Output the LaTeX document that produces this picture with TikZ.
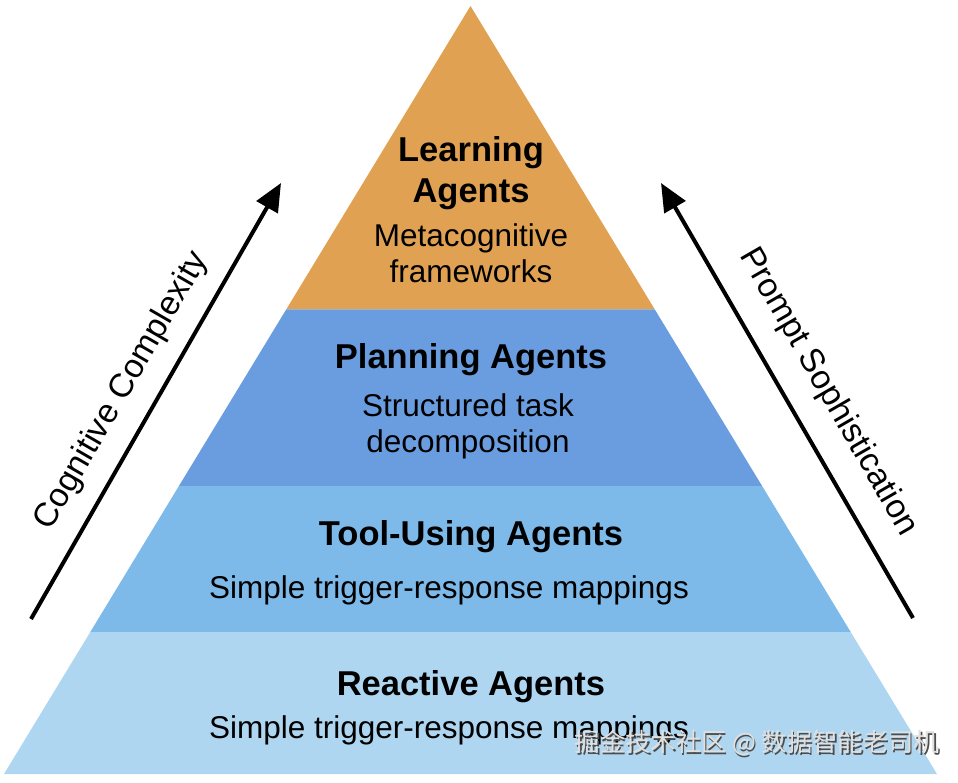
\documentclass[tikz,border=0pt]{standalone}
\usepackage{fontspec}
\setmainfont{Liberation Sans}
\newfontfamily\cjk{Noto Sans CJK SC}
\usetikzlibrary{arrows.meta}
\definecolor{lorange}{HTML}{E0A252}
\definecolor{lplan}{HTML}{6A9DE0}
\definecolor{ltool}{HTML}{7DB9E9}
\definecolor{lreact}{HTML}{AED6F1}
\tikzset{
  title/.style={anchor=base,inner sep=0pt,font=\fontsize{34.5}{40}\selectfont\bfseries},
  body/.style={anchor=base,inner sep=0pt,font=\fontsize{31.5}{36}\selectfont},
  side/.style={inner sep=0pt,font=\fontsize{33.5}{38}\selectfont},
  axis/.style={line width=4pt,-{Triangle[length=28pt,width=24pt]}},
  wm/.style={inner sep=0pt,font=\cjk\fontsize{25.3}{30}\selectfont}
}
\begin{document}
\begin{tikzpicture}[x=1pt,y=-1pt]
\useasboundingbox (0,0) rectangle (958,783);
% pyramid corner coordinates
\coordinate (apex) at (470.5,6);
\coordinate (l1) at (286.3,309.3); \coordinate (r1) at (654.7,309.3);
\coordinate (l2) at (178.9,486);   \coordinate (r2) at (762.1,486);
\coordinate (l3) at (90.3,632);    \coordinate (r3) at (850.7,632);
\coordinate (l4) at (4,774);       \coordinate (r4) at (937,774);
% layers
\fill[lorange] (apex) -- (l1) -- (r1) -- cycle;
\fill[lplan] (l1) -- (l2) -- (r2) -- (r1) -- cycle;
\fill[ltool] (l2) -- (l3) -- (r3) -- (r2) -- cycle;
\fill[lreact] (l3) -- (l4) -- (r4) -- (r3) -- cycle;
% texts
\node[title] (learn1) at (471,162) {Learning};
\node[title] (learn2) at (471,203) {Agents};
\node[body] (learn3) at (471,247) {Metacognitive};
\node[body] (learn4) at (471,283) {frameworks};
\node[title] (plan1) at (471,369) {Planning Agents};
\node[body] (plan2) at (468,416) {Structured task};
\node[body] (plan3) at (468,452) {decomposition};
\node[title] (tool1) at (471,545) {Tool-Using Agents};
\node[body] (tool2) at (449,598) {Simple trigger-response mappings};
\node[title] (react1) at (471,695) {Reactive Agents};
\node[body] (react2) at (449,738) {Simple trigger-response mappings};
% side arrows
\coordinate (ca) at (31,619);
\coordinate (cb) at (281,183);
\coordinate (pa) at (913,618);
\coordinate (pb) at (661,183);
\draw[axis] (ca) -- (cb);
\draw[axis] (pa) -- (pb);
\node[side,rotate=60] (cog) at (122,391) {Cognitive Complexity};
\node[side,rotate=-60] (prm) at (828,392) {Prompt Sophistication};
% watermark
\node[wm,text=black!70] (wms) at (758.5,744.5) {掘金技术社区 @ 数据智能老司机};
\node[wm,text=black!12] (wm) at (757,743) {掘金技术社区 @ 数据智能老司机};
\end{tikzpicture}
\end{document}
